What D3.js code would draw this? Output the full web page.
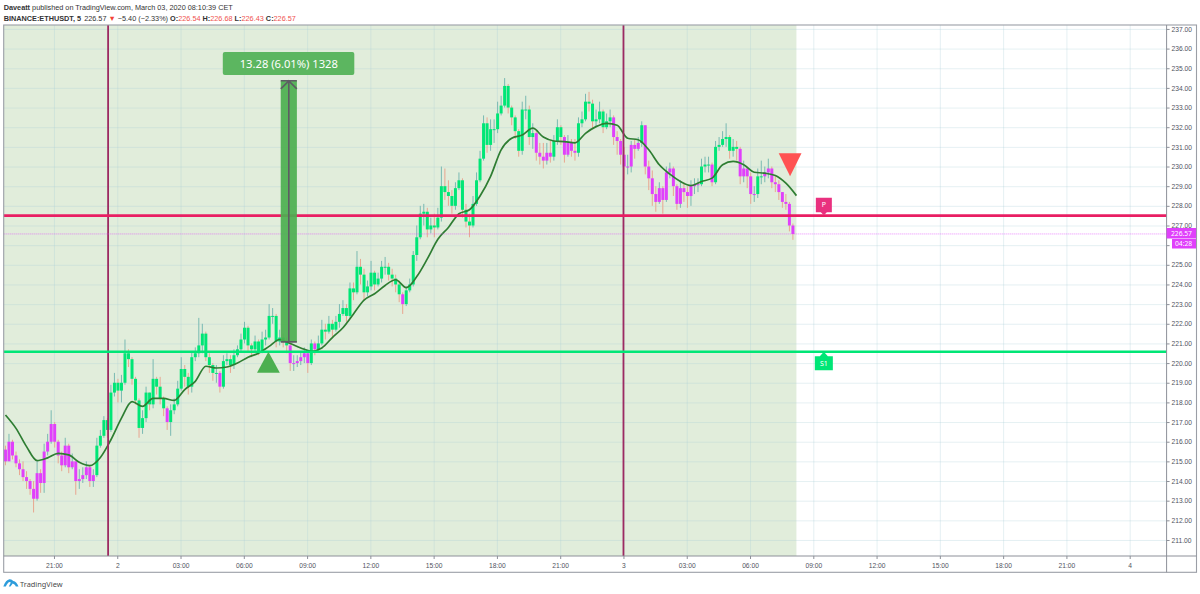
<!DOCTYPE html>
<html>
<head>
<meta charset="utf-8">
<script src="https://d3js.org/d3.v7.min.js"></script>
<style>
  html, body { margin: 0; padding: 0; background: #fff; }
  svg { display: block; font-family: "Noto Sans", sans-serif; }
  .scale text { fill: #50535e; font-size: 6.7px; }
  .scale path, .scale line { stroke: #8d9099; }
  .grid path { stroke: none; }
  .grid line { stroke: rgba(170,205,215,0.3); }
  .head { font-family: "Liberation Sans", sans-serif; font-size: 7.3px; fill: #333; }
</style>
</head>
<body>
<svg id="chart" width="1200" height="594"></svg>
<script>
// 10 minute columns, first one at 18:42 on March 1
const firstOpen = 215.6;
const closes = [
  215.0,216.0,215.3,214.9,214.6,214.2,214.0,213.6,213.1,214.4,
  213.9,215.5,216.0,216.9,216.0,215.3,214.8,215.8,214.7,215.0,
  214.0,214.1,214.3,214.7,214.0,214.3,215.8,216.3,217.1,216.6,
  218.5,219.0,218.6,219.0,220.5,220.2,219.2,218.1,216.7,217.2,
  218.5,217.9,219.2,218.8,218.2,217.7,217.0,217.6,217.9,218.7,
  219.7,219.3,218.8,220.3,220.5,220.9,221.5,220.3,219.9,219.5,
  219.5,218.8,220.1,220.2,219.9,220.4,220.7,221.2,221.8,220.9,
  220.7,221.1,220.6,221.2,221.3,222.4,222.4,221.1,221.3,221.1,
  220.9,220.0,220.0,220.1,220.3,220.5,220.0,221.0,220.7,221.0,
  221.7,221.6,222.0,221.7,222.1,222.5,222.8,222.4,223.8,223.6,
  224.9,224.5,223.6,223.9,224.6,224.0,224.3,224.9,224.9,224.5,
  224.3,224.0,223.5,223.0,223.7,224.0,225.5,226.4,227.6,227.7,
  226.8,227.0,226.9,227.4,229.0,228.7,228.5,228.0,228.9,229.3,
  227.8,227.2,227.0,228.1,229.3,230.4,232.2,231.1,231.9,231.9,
  232.7,233.1,234.1,233.0,232.5,231.8,230.8,232.9,232.9,231.5,
  231.7,230.7,230.5,230.3,230.7,230.5,231.3,232.0,231.5,230.6,
  231.2,230.8,230.7,232.2,232.4,233.3,233.2,232.3,232.4,232.8,
  232.0,232.3,232.5,231.5,231.3,230.6,230.0,230.0,231.1,230.9,
  231.2,232.1,230.0,229.4,228.6,228.2,228.9,228.3,229.7,229.9,
  229.0,228.1,228.9,228.7,228.5,229.0,229.1,229.1,230.0,230.1,
  230.1,229.2,231.0,231.1,231.4,231.5,230.8,231.0,230.9,229.5,
  229.9,229.5,228.6,228.6,229.5,229.5,229.7,229.9,229.2,229.1,
  228.7,228.2,228.1,227.0,226.57
];
const highs = [
  215.8,216.4,216.1,215.5,215.1,215.0,214.5,214.1,214.0,215.0,
  214.6,215.9,216.4,217.6,217.0,216.1,215.5,216.2,215.9,215.4,
  215.0,214.6,214.7,215.0,214.8,214.6,216.2,216.6,217.3,217.2,
  218.9,219.5,219.2,219.4,221.2,220.7,220.3,219.3,218.2,217.6,
  218.8,218.5,220.2,219.3,219.3,218.3,217.8,217.9,218.2,219.1,
  220.3,219.9,219.5,220.6,220.8,222.3,222.0,221.6,220.5,220.0,
  219.9,219.6,220.4,220.5,220.4,220.7,220.9,221.5,222.1,221.9,
  221.0,221.4,221.2,221.6,221.7,223.0,222.8,222.5,221.7,221.5,
  221.3,221.0,220.4,220.4,220.6,220.8,220.6,221.2,221.1,221.4,
  222.2,222.0,222.4,222.2,222.4,223.0,223.2,223.0,224.1,224.1,
  225.7,225.3,224.8,224.2,225.2,224.7,224.6,225.2,225.4,225.1,
  224.8,224.5,224.2,223.6,223.9,224.3,225.7,227.0,228.0,228.1,
  227.9,227.4,227.6,227.9,230.0,229.9,229.3,228.8,229.2,229.7,
  229.4,228.1,227.6,228.5,229.7,230.8,232.6,232.5,232.4,232.4,
  233.3,233.6,234.5,234.2,233.1,232.6,231.9,233.3,233.6,233.1,
  232.2,231.8,231.2,231.2,231.2,231.3,231.6,232.4,232.1,231.6,
  231.6,231.4,231.4,232.5,232.8,233.7,233.8,233.4,232.9,233.3,
  232.9,232.7,232.9,232.6,231.8,231.4,231.0,230.6,231.3,231.4,
  231.5,232.3,232.1,230.3,229.8,229.0,229.2,229.0,230.0,230.2,
  230.0,229.1,229.3,229.2,229.0,229.3,229.4,229.4,230.4,230.5,
  230.5,230.2,231.3,231.5,231.8,232.2,231.6,231.4,231.3,231.0,
  230.3,230.0,229.7,229.0,229.9,230.3,230.0,230.4,230.0,229.5,
  229.3,228.7,228.6,228.2,227.1
];
const lows = [
  214.8,215.3,215.1,214.7,214.3,214.0,213.6,213.3,212.4,213.0,
  213.4,213.4,215.3,215.9,215.7,214.9,214.5,214.7,214.4,214.6,
  213.3,213.6,213.9,214.1,213.7,213.7,214.2,215.7,216.2,216.2,
  216.5,218.3,218.0,218.0,218.9,219.8,218.9,217.9,216.2,216.4,
  217.0,217.6,217.7,218.4,217.9,217.3,216.6,216.3,217.4,217.8,
  218.6,218.8,218.4,218.5,220.1,220.3,220.5,220.1,219.5,219.1,
  219.0,218.5,218.7,219.9,219.5,219.7,220.3,220.6,221.0,220.6,
  220.3,220.5,220.4,220.5,220.9,221.2,222.0,220.8,220.9,220.8,
  220.5,219.6,219.6,219.8,219.9,220.0,219.5,219.9,220.4,220.6,
  220.9,221.2,221.5,221.3,221.6,221.8,222.4,222.1,222.3,223.2,
  223.5,224.0,223.2,223.4,223.7,223.7,223.9,224.1,224.5,224.2,
  223.9,223.6,223.1,222.5,222.9,223.6,223.9,225.2,226.3,227.0,
  226.4,226.6,226.4,226.8,227.2,228.3,228.0,227.6,227.8,228.8,
  227.4,226.9,226.4,226.9,228.0,229.2,230.3,230.7,230.8,231.2,
  231.7,232.6,233.0,232.7,232.1,231.4,230.5,230.6,232.4,231.1,
  230.9,230.3,230.1,229.9,230.1,230.2,230.3,231.1,231.1,230.2,
  230.5,230.5,230.3,230.5,232.0,232.3,232.8,231.9,232.0,232.2,
  231.7,231.9,232.0,231.1,230.6,230.1,229.3,229.6,229.7,230.4,
  230.8,231.0,229.6,228.8,228.0,227.7,228.1,227.6,228.2,229.4,
  228.5,227.8,227.9,228.2,227.9,228.0,228.6,228.7,229.0,229.7,
  229.7,229.0,229.1,230.8,231.0,231.0,230.4,230.5,230.3,229.1,
  229.2,228.9,228.1,228.2,228.4,229.1,229.2,229.4,228.9,228.7,
  228.3,227.9,227.8,226.7,226.27
];
// columns painted magenta instead of green, [first, last] column index
const magentaRuns = [[0,25],[46,46],[61,61],[81,86],[88,88],[113,113],[151,155],[159,162],[173,180],[182,197],[201,201],[209,213],[216,224]];

// moving average, one reading every 30 minutes starting at the first column
const maValues = [
  217.36,216.68,215.75,215.04,215.18,215.41,215.33,214.95,214.78,215.2,
  216.1,217.2,218.04,217.8,218.2,218.2,218.1,218.65,219.07,219.84,
  219.75,219.8,220.0,220.3,220.5,220.85,221.2,221.0,220.77,220.6,
  220.77,221.3,221.8,222.5,223.2,223.53,223.95,224.24,223.84,224.4,
  225.3,226.3,226.9,227.6,227.8,228.5,229.5,230.85,231.44,231.6,
  231.95,231.5,231.3,231.27,231.2,231.69,232.03,232.2,232.1,231.44,
  231.36,230.85,230.09,229.61,229.24,229.03,229.24,229.41,230.09,230.26,
  230.09,229.71,229.66,229.54,229.15,228.52
];

const priceTicks = [211,212,213,214,215,216,217,218,219,220,221,222,223,224,225,226,227,228,229,230,231,232,233,234,235,236,237];
const timeTicks = ["2020-03-01T21:00Z","2020-03-02T00:00Z","2020-03-02T03:00Z","2020-03-02T06:00Z","2020-03-02T09:00Z","2020-03-02T12:00Z","2020-03-02T15:00Z","2020-03-02T18:00Z","2020-03-02T21:00Z","2020-03-03T00:00Z","2020-03-03T03:00Z","2020-03-03T06:00Z","2020-03-03T09:00Z","2020-03-03T12:00Z","2020-03-03T15:00Z","2020-03-03T18:00Z","2020-03-03T21:00Z","2020-03-04T00:00Z"].map(d => new Date(d));
const sessionLines = [new Date("2020-03-01T23:34Z"), new Date("2020-03-03T00:00Z")];

const firstBar = new Date("2020-03-01T18:42Z");
const resistance = 227.5;
const support = 220.58;
const lastPrice = 226.57;
const measureTop = 234.36;
const measureBottom = 221.08;
const measureFrom = new Date("2020-03-02T07:45Z");
const measureTo = new Date("2020-03-02T08:31Z");
const measureTime = new Date("2020-03-02T08:08Z");
const buyTime = new Date("2020-03-02T07:10Z");
const sellTime = new Date("2020-03-03T07:54Z");
const sellPrice = 230.67;
const tagTime = new Date("2020-03-03T09:30Z");

const plotLeft = 3.7, plotRight = 1166.6, plotTop = 25, plotBottom = 556, frameRight = 1196.5, frameBottom = 572.3;

const svg = d3.select("#chart");

const x = d3.scaleUtc()
  .domain([new Date("2020-03-01T18:37Z"), new Date("2020-03-04T01:45Z")])
  .range([plotLeft, plotRight]);
const y = d3.scaleLinear()
  .domain([210.186, 237.2])
  .range([plotBottom, plotTop]);

const barTime = i => new Date(firstBar.getTime() + i * 600000);
const bars = closes.map((c, i) => ({
  i: i,
  t: barTime(i),
  o: i ? closes[i - 1] : firstOpen,
  c: c,
  h: highs[i],
  l: lows[i],
  magenta: magentaRuns.some(r => i >= r[0] && i <= r[1])
}));

// green session background, the grid sits on top of it
svg.append("rect")
  .attr("x", plotLeft).attr("y", plotTop)
  .attr("width", x(barTime(225)) - plotLeft).attr("height", plotBottom - plotTop)
  .attr("fill", "#e1eddb");

svg.append("g").attr("class", "grid")
  .attr("transform", "translate(" + plotLeft + ",0)")
  .call(d3.axisRight(y).tickValues(priceTicks).tickSize(plotRight - plotLeft).tickFormat(""));
svg.append("g").attr("class", "grid")
  .attr("transform", "translate(0," + plotTop + ")")
  .call(d3.axisBottom(x).tickValues(timeTicks).tickSize(plotBottom - plotTop).tickFormat(""));

// wicks
svg.append("g").selectAll("line").data(bars).enter().append("line")
  .attr("x1", d => x(d.t)).attr("x2", d => x(d.t))
  .attr("y1", d => y(d.h)).attr("y2", d => y(d.l))
  .attr("stroke", d => d.c >= d.o ? "#79b9b2" : "#e8a690")
  .attr("stroke-width", 1);

// bodies
svg.append("g").selectAll("rect").data(bars).enter().append("rect")
  .attr("x", d => x(d.t) - 1.5)
  .attr("width", 3)
  .attr("y", d => y(Math.max(d.o, d.c)))
  .attr("height", d => Math.max(1, Math.abs(y(d.o) - y(d.c))))
  .attr("fill", d => d.magenta ? "#e040fb" : "#00e676");

const maLine = d3.line()
  .x((d, i) => x(barTime(i * 3)))
  .y(d => y(d))
  .curve(d3.curveMonotoneX);
svg.append("path").datum(maValues)
  .attr("d", maLine)
  .attr("fill", "none")
  .attr("stroke", "#2e7d32")
  .attr("stroke-width", 1.7);

// session markers
svg.append("g").selectAll("line").data(sessionLines).enter().append("line")
  .attr("x1", d => x(d)).attr("x2", d => x(d))
  .attr("y1", plotTop).attr("y2", plotBottom)
  .attr("stroke", "#9c2a62")
  .attr("stroke-width", 1.8);

// last price, support and resistance
svg.append("line")
  .attr("x1", plotLeft).attr("x2", plotRight)
  .attr("y1", y(lastPrice)).attr("y2", y(lastPrice))
  .attr("stroke", "#e040fb").attr("stroke-opacity", 0.6)
  .attr("stroke-dasharray", "1,1");
[[resistance, "#e91e63"], [support, "#00e676"]].forEach(d => {
  svg.append("line")
    .attr("x1", plotLeft).attr("x2", plotRight)
    .attr("y1", y(d[0])).attr("y2", y(d[0]))
    .attr("stroke", d[1])
    .attr("stroke-width", 2.6);
});

// measure tool
const mx0 = x(measureFrom), mx1 = x(measureTo), mc = x(measureTime);
svg.append("rect")
  .attr("x", mx0).attr("y", y(measureTop))
  .attr("width", mx1 - mx0).attr("height", y(measureBottom) - y(measureTop))
  .attr("fill", "#4caf50").attr("fill-opacity", 0.92);
svg.append("path")
  .attr("d", "M" + mx0 + "," + y(measureBottom) + "H" + mx1 +
    "M" + mc + "," + y(measureBottom) + "V" + y(measureTop) +
    "M" + mx0 + "," + y(measureTop) + "H" + mx1 +
    "M" + (mc - 8) + "," + (y(measureTop) + 8) + "L" + mc + "," + y(measureTop) + "L" + (mc + 8) + "," + (y(measureTop) + 8))
  .attr("fill", "none").attr("stroke", "#5d5d63").attr("stroke-width", 1.6);
svg.append("rect")
  .attr("x", mc - 66).attr("y", 52).attr("width", 131.5).attr("height", 23).attr("rx", 2)
  .attr("fill", "#5cb660");
svg.append("text")
  .attr("x", mc).attr("y", 67.5).attr("text-anchor", "middle")
  .attr("fill", "#fff").attr("font-size", 11.2)
  .text("13.28 (6.01%) 1328");

// entry and exit triangles
svg.append("path")
  .attr("transform", "translate(" + x(buyTime) + "," + y(support) + ")")
  .attr("d", "M0,0L11.4,21H-11.4Z")
  .attr("fill", "#4caf50");
svg.append("path")
  .attr("transform", "translate(" + x(sellTime) + "," + y(sellPrice) + ")")
  .attr("d", "M0,23L11.4,0H-11.4Z")
  .attr("fill", "#ff5252");

// P and S1 tags hanging on the two levels
const tagP = svg.append("g").attr("transform", "translate(" + x(tagTime) + "," + y(resistance) + ")");
tagP.append("path").attr("d", "M-8,-18h16v14.5h-5l-3,3l-3,-3h-5Z").attr("fill", "#e9307f");
tagP.append("text").attr("y", -8.5).attr("text-anchor", "middle").attr("fill", "#fff").attr("font-size", 7).text("P");
const tagS = svg.append("g").attr("transform", "translate(" + x(tagTime) + "," + y(support) + ")");
tagS.append("path").attr("d", "M0,0l4,4.5h5v14h-18v-14h5Z").attr("fill", "#00e676");
tagS.append("text").attr("y", 14).attr("text-anchor", "middle").attr("fill", "#fff").attr("font-size", 7).text("S1");

// frame and scales
svg.append("rect")
  .attr("x", plotLeft).attr("y", plotTop)
  .attr("width", frameRight - plotLeft).attr("height", frameBottom - plotTop)
  .attr("fill", "none").attr("stroke", "#9b9ea6").attr("stroke-width", 1.1);
svg.append("line")
  .attr("x1", plotRight).attr("x2", plotRight).attr("y1", plotTop).attr("y2", frameBottom)
  .attr("stroke", "#8d9099");

// the 226.00 label sits under the countdown tag, so it is left blank
const priceLabel = d => d === 226 ? "" : d3.format(".2f")(d);
const priceAxis = svg.append("g").attr("class", "scale")
  .attr("transform", "translate(" + plotRight + ",0)")
  .call(d3.axisRight(y).tickValues(priceTicks).tickSize(3).tickPadding(2).tickFormat(priceLabel));
priceAxis.select(".domain").remove();

const dayOrHour = d => d.getUTCHours() === 0 ? d3.utcFormat("%-d")(d) : d3.utcFormat("%H:%M")(d);
const timeAxis = svg.append("g").attr("class", "scale")
  .attr("transform", "translate(0," + plotBottom + ")")
  .call(d3.axisBottom(x).tickValues(timeTicks).tickSize(3).tickPadding(4).tickFormat(dayOrHour));
timeAxis.select(".domain").attr("d", "M" + plotLeft + ",0H" + frameRight);

// price tags on the scale
svg.append("rect").attr("x", plotRight).attr("y", 228).attr("width", 29.5).attr("height", 10.5).attr("fill", "#e040fb");
svg.append("text").attr("x", 1171).attr("y", 235.8).attr("fill", "#fff").attr("font-size", 6.7).text(d3.format(".2f")(lastPrice));
svg.append("rect").attr("x", 1172).attr("y", 239).attr("width", 24).attr("height", 9.5).attr("fill", "#e040fb");
svg.append("text").attr("x", 1175).attr("y", 246.3).attr("fill", "#fff").attr("font-size", 6.7).text("04:28");

// header
const head1 = svg.append("text").attr("class", "head").attr("x", 3.7).attr("y", 10);
head1.append("tspan").attr("font-weight", "bold").text("Daveatt");
head1.append("tspan").text(" published on TradingView.com, March 03, 2020 08:10:39 CET");

const head2 = svg.append("text").attr("class", "head").attr("x", 3.7).attr("y", 20.5);
head2.append("tspan").attr("font-weight", "bold").text("BINANCE:ETHUSDT, 5");
head2.append("tspan").attr("dx", 3).text("226.57 ");
head2.append("tspan").attr("fill", "#f44336").text("▼");
head2.append("tspan").text(" −5.40 (−2.33%) ");
[["O:", "226.54"], ["H:", "226.68"], ["L:", "226.43"], ["C:", "226.57"]].forEach(d => {
  head2.append("tspan").attr("font-weight", "bold").text(d[0]);
  head2.append("tspan").attr("fill", "#ef5350").text(d[1] + " ");
});

// footer logo
svg.append("path")
  .attr("d", "M3.3,586.5C5,582 7,579.5 9.5,579.2C11,579 12.5,580 13.3,581C15.5,581.3 17.5,583.5 18.5,586.5L15.8,586.5C15,585 14,584 12.7,583.6L10.5,586.5H8.8L10.8,582.6C10,581.7 9,582 8.2,582.8C7.2,583.8 6.4,585.2 5.8,586.5Z")
  .attr("fill", "#2d9cdb");
svg.append("text").attr("x", 20).attr("y", 586.5).attr("font-size", 7.4).attr("fill", "#4a4a4a").text("TradingView");
</script>
</body>
</html>
